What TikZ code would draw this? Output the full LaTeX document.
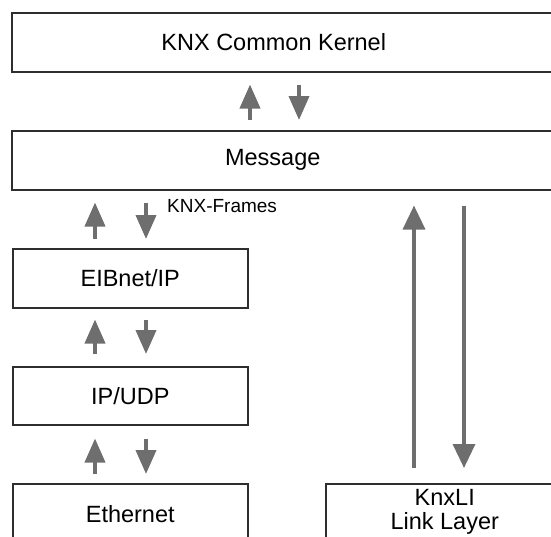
\documentclass[tikz,border=0pt]{standalone}
\usepackage{fontspec}
\setmainfont{Liberation Sans}
\usetikzlibrary{arrows.meta}
\definecolor{framecol}{HTML}{2E2E2E}
\definecolor{flowcol}{HTML}{6E6E6E}
\begin{document}
\begin{tikzpicture}[x=1pt,y=-1pt,
  layer/.style={draw=framecol, line width=1.5pt, rectangle, inner sep=0pt,
    minimum height=59pt, font=\fontsize{23.5}{24}\selectfont, align=center},
  flow/.style={draw=flowcol, line width=3.8pt,
    -{Triangle[width=20pt,length=24pt]}, flowcol},
  tag/.style={font=\fontsize{19}{22}\selectfont, inner sep=0pt}]
\useasboundingbox (0,0) rectangle (551,536);
\clip (0,0) rectangle (551,536);

% protocol stack boxes (the wide ones run past the right border)
\node[layer, minimum width=549pt, anchor=north west,
  label={[xshift=-12.5pt, font=\fontsize{23.5}{24}\selectfont]center:KNX Common Kernel}]
  (kern) at (11,12) {};
\node[layer, minimum width=549pt, anchor=north west,
  label={[xshift=-13.5pt, font=\fontsize{23.5}{24}\selectfont]center:Message}]
  (msg) at (11,130) {};
\node[layer, minimum width=235pt, anchor=north west] (eib) at (12,248) {EIBnet/IP};
\node[layer, minimum width=235pt, anchor=north west, minimum height=58pt] (udp) at (12,366) {IP/UDP};
\node[layer, minimum width=235pt, anchor=north west, minimum height=60pt] (eth) at (12,483) {Ethernet};
\node[layer, minimum width=238pt, anchor=north west, minimum height=56pt] (knxli) at (325,483) {KnxLI\\Link Layer};

% kernel <-> message
\draw[flow, shorten <=10pt, shorten >=12pt] (250,0 |- msg.north) -- (250,0 |- kern.south);
\draw[flow, shorten <=12pt, shorten >=10pt] (299,0 |- kern.south) -- (299,0 |- msg.north);

% message <-> EIBnet/IP
\draw[flow, shorten <=9pt, shorten >=12pt] (95,0 |- eib.north) -- (95,0 |- msg.south);
\draw[flow, shorten <=12pt, shorten >=9pt] (146,0 |- msg.south) -- (146,0 |- eib.north);
\node[tag, anchor=west] (frames) at (167,206) {KNX-Frames};

% EIBnet/IP <-> IP/UDP
\draw[flow, shorten <=12pt, shorten >=11pt] (95,0 |- udp.north) -- (95,0 |- eib.south);
\draw[flow, shorten <=11pt, shorten >=12pt] (146,0 |- eib.south) -- (146,0 |- udp.north);

% IP/UDP <-> Ethernet
\draw[flow, shorten <=9pt, shorten >=13pt] (95,0 |- eth.north) -- (95,0 |- udp.south);
\draw[flow, shorten <=13pt, shorten >=9pt] (146,0 |- udp.south) -- (146,0 |- eth.north);

% message <-> link layer
\draw[flow, line width=3.5pt, -{Triangle[width=22pt,length=24pt]}, shorten <=15pt, shorten >=15pt]
  (414,0 |- knxli.north) -- (414,0 |- msg.south);
\draw[flow, line width=3.5pt, -{Triangle[width=22pt,length=24pt]}, shorten <=15pt, shorten >=15pt]
  (464,0 |- msg.south) -- (464,0 |- knxli.north);
\end{tikzpicture}
\end{document}
